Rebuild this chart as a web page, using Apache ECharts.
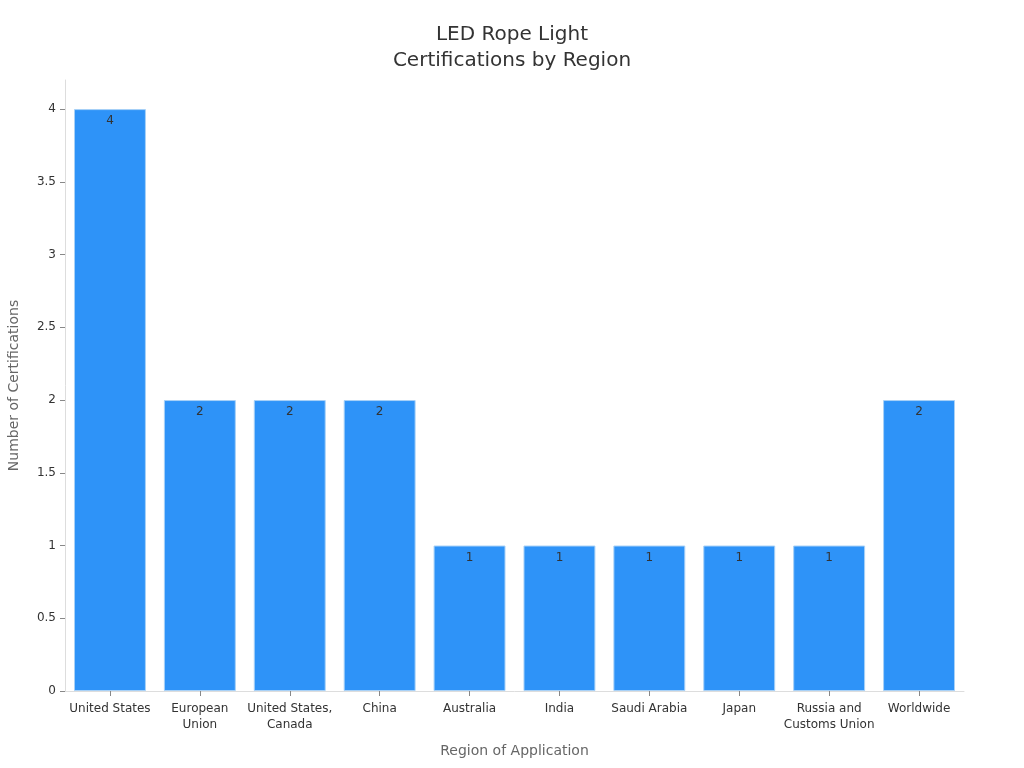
<!DOCTYPE html>
<html><head><meta charset="utf-8">
<script src="https://cdn.jsdelivr.net/npm/echarts@6/dist/echarts.min.js"></script>
<style>html,body{margin:0;padding:0;background:#fff}#c{width:1024px;height:768px}</style>
</head><body><div id="c"></div>
<script>
const categories = ["United States","European\nUnion","United States,\nCanada","China","Australia","India","Saudi Arabia","Japan","Russia and\nCustoms Union","Worldwide"];
const values = [4,2,2,2,1,1,1,1,1,2];
const yTicks = [0,0.5,1,1.5,2,2.5,3,3.5,4];
const chart = echarts.init(document.getElementById('c'));
chart.setOption({
  animation:false,
  textStyle:{fontFamily:'DejaVu Sans'},
  title:{text:'LED Rope Light\nCertifications by Region',left:'center',top:17,
    textStyle:{fontFamily:'DejaVu Sans',fontSize:20,fontWeight:'normal',color:'#333',lineHeight:26}},
  grid:{left:65,right:60,top:80,bottom:77,containLabel:false,outerBoundsMode:'none'},
  xAxis:{type:'category',data:categories,
    name:'Region of Application',nameLocation:'middle',nameGap:53,
    nameTextStyle:{fontSize:14,color:'#666'},
    axisLine:{lineStyle:{color:'#ddd'}},
    axisTick:{show:true,alignWithLabel:true,length:5,lineStyle:{color:'#888'}},
    axisLabel:{color:'#333',fontSize:12,interval:0,lineHeight:16,margin:10}},
  yAxis:{type:'value',min:0,max:4.2,interval:0.5,
    name:'Number of Certifications',nameLocation:'middle',nameGap:44,
    nameTextStyle:{fontSize:14,color:'#666'},
    axisLine:{show:true,lineStyle:{color:'#ddd'}},
    axisTick:{show:true,length:5,lineStyle:{color:'#888'},customValues:yTicks},
    axisLabel:{color:'#333',fontSize:12,margin:9,customValues:yTicks},
    splitLine:{show:false}},
  series:[{type:'bar',data:values,barCategoryGap:'20%',
    itemStyle:{color:'#2e93f8',borderColor:'#a8d1f7',borderWidth:1},
    label:{show:true,position:'insideTop',distance:6,color:'#333',fontSize:12}}]
});
</script></body></html>
